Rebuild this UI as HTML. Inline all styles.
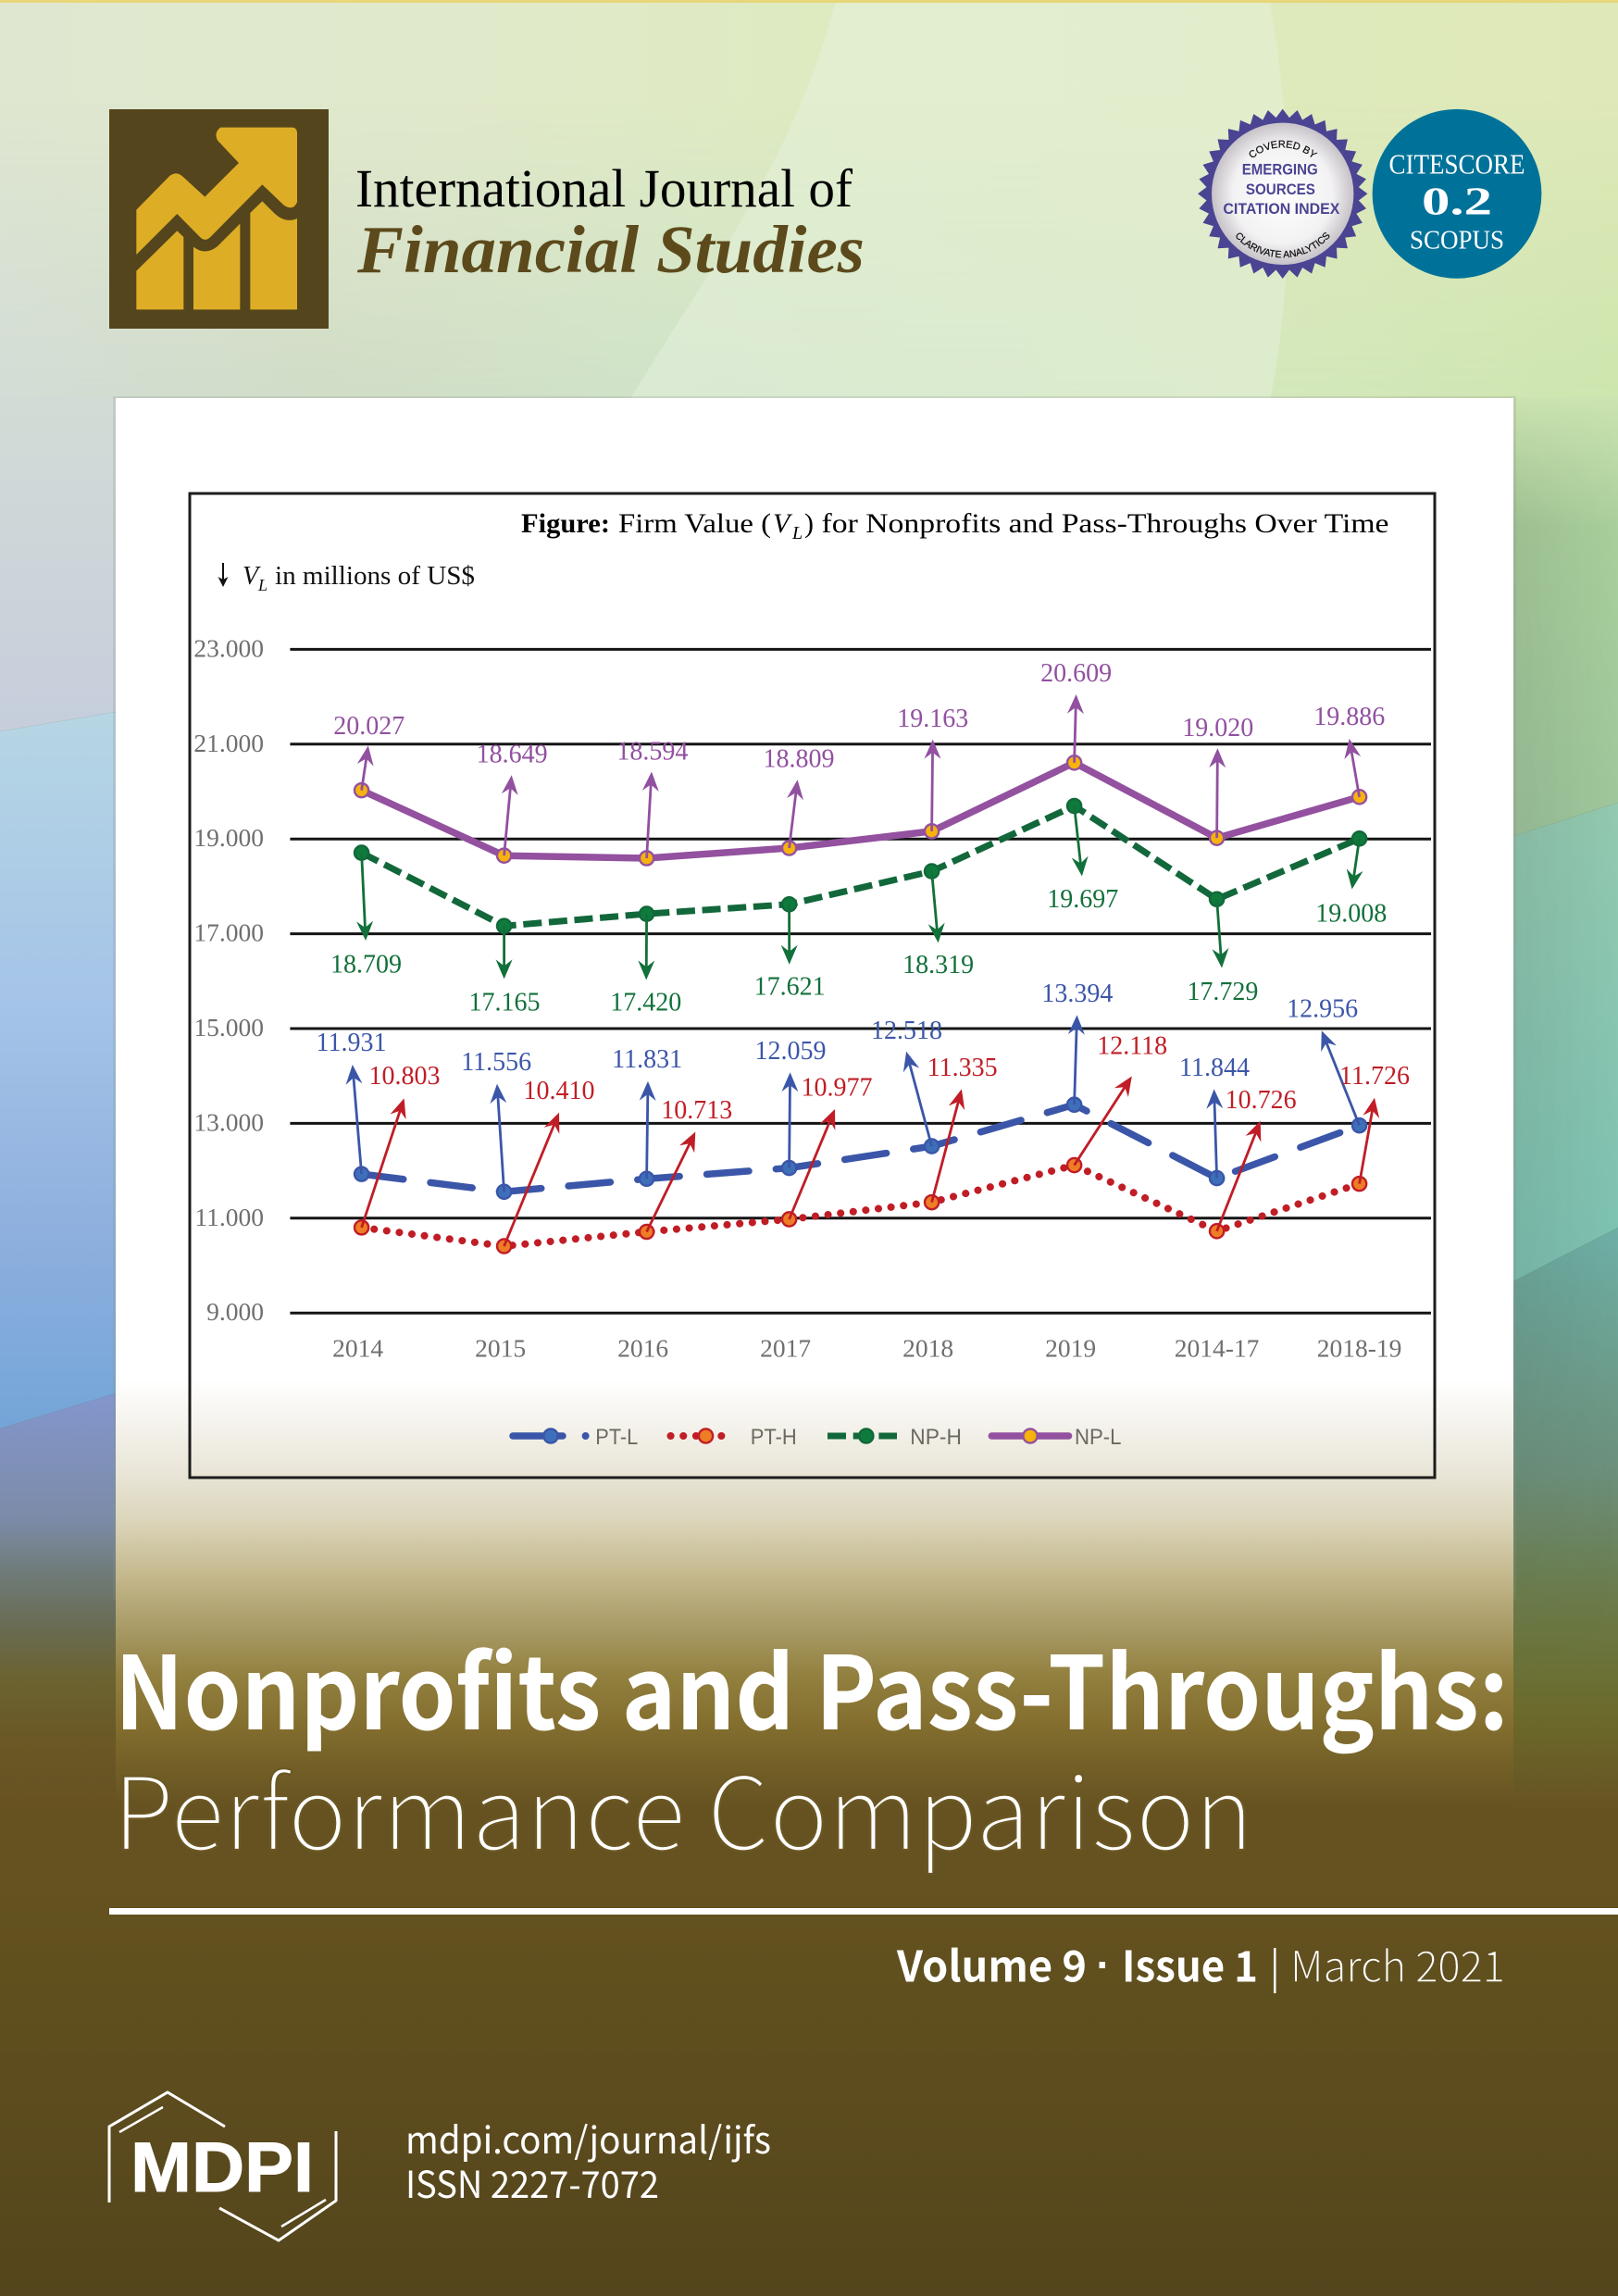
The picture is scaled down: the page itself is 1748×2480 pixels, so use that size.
<!DOCTYPE html>
<html lang="en">
<head>
<meta charset="utf-8">
<title>International Journal of Financial Studies - Cover</title>
<style>
html,body{margin:0;padding:0;width:1748px;height:2480px;overflow:hidden;background:#54451c}
svg{display:block}
.serif{font-family:"Liberation Serif",serif}
.sans{font-family:"Liberation Sans",sans-serif}
.cjk{font-family:"Noto Sans CJK JP","Liberation Sans",sans-serif}
</style>
</head>
<body>
<svg id="cover" xmlns="http://www.w3.org/2000/svg" width="1748" height="2480" viewBox="0 0 1748 2480">
<defs>
  <linearGradient id="hdrTop" x1="0" x2="1" y1="0" y2="0">
    <stop offset="0" stop-color="#dfe7d0"/><stop offset=".25" stop-color="#e1e9cc"/><stop offset=".5" stop-color="#deebc1"/><stop offset="1" stop-color="#dfe9b8"/>
  </linearGradient>
  <linearGradient id="hdrBot" x1="0" x2="1" y1="0" y2="0">
    <stop offset="0" stop-color="#d2dcd6"/><stop offset=".2" stop-color="#d0dcc6"/><stop offset=".42" stop-color="#cfe3c8"/><stop offset=".8" stop-color="#d3e7bb"/><stop offset="1" stop-color="#cde5ae"/>
  </linearGradient>
  <linearGradient id="hdrFade" x1="0" x2="0" y1="0" y2="1">
    <stop offset=".25" stop-color="#000"/><stop offset="1" stop-color="#fff"/>
  </linearGradient>
  <mask id="hdrMask" maskUnits="userSpaceOnUse" x="0" y="0" width="1748" height="432">
    <rect width="1748" height="432" fill="url(#hdrFade)"/>
  </mask>
  <linearGradient id="left1" gradientUnits="userSpaceOnUse" x1="0" x2="0" y1="430" y2="785">
    <stop offset="0" stop-color="#d2dcd6"/><stop offset="1" stop-color="#c6cedc"/>
  </linearGradient>
  <linearGradient id="left2" gradientUnits="userSpaceOnUse" x1="0" x2="0" y1="770" y2="1540">
    <stop offset="0" stop-color="#b6d6e4"/><stop offset=".42" stop-color="#a4c3e8"/><stop offset=".72" stop-color="#8fb0de"/><stop offset="1" stop-color="#74a5d8"/>
  </linearGradient>
  <linearGradient id="left3" gradientUnits="userSpaceOnUse" x1="0" x2="0" y1="1510" y2="1960">
    <stop offset="0" stop-color="#8396cc"/><stop offset=".289" stop-color="#7c8ba8"/><stop offset=".422" stop-color="#6f7b78"/><stop offset=".556" stop-color="#696b50"/><stop offset=".667" stop-color="#6b6332"/><stop offset=".822" stop-color="#6a5825"/><stop offset="1" stop-color="#675122"/>
  </linearGradient>
  <linearGradient id="right1" gradientUnits="userSpaceOnUse" x1="0" x2="0" y1="430" y2="900">
    <stop offset="0" stop-color="#cbe3b0"/><stop offset=".3" stop-color="#a9cf9c"/><stop offset="1" stop-color="#9ec69c"/>
  </linearGradient>
  <linearGradient id="right2" gradientUnits="userSpaceOnUse" x1="0" x2="0" y1="870" y2="1380">
    <stop offset="0" stop-color="#93c9b0"/><stop offset="1" stop-color="#7cc2b2"/>
  </linearGradient>
  <linearGradient id="right3" gradientUnits="userSpaceOnUse" x1="0" x2="0" y1="1330" y2="1960">
    <stop offset="0" stop-color="#6eb0a6"/><stop offset=".42" stop-color="#6c8f7a"/><stop offset=".62" stop-color="#6b7c4c"/><stop offset=".83" stop-color="#6b6a2a"/><stop offset="1" stop-color="#675122"/>
  </linearGradient>
  <linearGradient id="rightShade" x1="0" x2="1" y1="0" y2="0">
    <stop offset="0" stop-color="#fff"/><stop offset="1" stop-color="#000"/>
  </linearGradient>
  <linearGradient id="rightShadeV" gradientUnits="userSpaceOnUse" x1="0" x2="0" y1="432" y2="1800">
    <stop offset="0" stop-color="#000"/><stop offset=".1" stop-color="#555"/><stop offset=".7" stop-color="#555"/><stop offset="1" stop-color="#000"/>
  </linearGradient>
  <mask id="rightShadeMask" maskUnits="userSpaceOnUse" x="1635" y="432" width="113" height="1368">
    <rect x="1635" y="432" width="113" height="1368" fill="url(#rightShadeV)"/>
  </mask>
  <linearGradient id="shadeFill" gradientUnits="userSpaceOnUse" x1="1635" x2="1748" y1="0" y2="0">
    <stop offset="0" stop-color="#333" stop-opacity=".3"/><stop offset="1" stop-color="#333" stop-opacity="0"/>
  </linearGradient>
  <linearGradient id="bottomBg" gradientUnits="userSpaceOnUse" x1="0" x2="0" y1="1955" y2="2480">
    <stop offset="0" stop-color="#665221"/><stop offset=".2" stop-color="#63521f"/><stop offset="1" stop-color="#54451c"/>
  </linearGradient>
  <linearGradient id="panelFill" gradientUnits="userSpaceOnUse" x1="0" x2="0" y1="430" y2="1950">
    <stop offset="0" stop-color="#fff"/><stop offset=".6974" stop-color="#fff"/><stop offset=".7664" stop-color="#e8e4d6"/><stop offset=".796" stop-color="#dcd6bc"/><stop offset=".8355" stop-color="#c5b98e"/><stop offset=".875" stop-color="#a89a65"/><stop offset=".9079" stop-color="#92803f"/><stop offset=".9408" stop-color="#846f2f"/><stop offset=".9671" stop-color="#756228"/><stop offset="1" stop-color="#665321"/>
  </linearGradient>
  <radialGradient id="sealFill" cx=".5" cy=".5" r=".5">
    <stop offset="0" stop-color="#ffffff"/><stop offset=".7" stop-color="#f3f2f3"/><stop offset="1" stop-color="#c6c2c8"/>
  </radialGradient>
  <path id="sealTopArc" d="M1335.7,209.3 A50,50 0 0 1 1435.7,209.3"/>
  <path id="sealBottomArc" d="M1316.7,209.3 A69,69 0 0 0 1454.7,209.3"/>
</defs>

<g>
  <rect width="1748" height="432" fill="url(#hdrTop)"/>
  <rect width="1748" height="432" fill="url(#hdrBot)" mask="url(#hdrMask)"/>
  <path d="M903,0 C860,170 760,300 680,432 L1372,432 C1400,300 1395,120 1371,0 Z" fill="#e6f2e0" opacity=".45"/>
  <rect width="1748" height="3" fill="#e8d67a"/>
  <polygon points="0,430 125,430 125,769 0,790" fill="url(#left1)"/>
  <polygon points="0,790 125,769 125,1505 0,1543" fill="url(#left2)"/>
  <polygon points="0,1543 125,1505 125,1960 0,1960" fill="url(#left3)"/>
  <polygon points="1635,430 1748,430 1748,867 1635,903" fill="url(#right1)"/>
  <polygon points="1635,903 1748,867 1748,1326 1635,1384" fill="url(#right2)"/>
  <polygon points="1635,1384 1748,1326 1748,1960 1635,1960" fill="url(#right3)"/>
  <rect x="1635" y="432" width="113" height="1368" fill="url(#shadeFill)" mask="url(#rightShadeMask)"/>
  <rect y="1955" width="1748" height="525" fill="url(#bottomBg)"/>
  <rect x="122" y="428" width="1516" height="1300" fill="#8a9088" opacity=".22"/>
  <rect x="125" y="430" width="1510" height="1525" fill="url(#panelFill)"/>
</g>

<g>
  <rect x="118" y="118" width="237" height="237" fill="#54451c"/>
  <g transform="translate(100,100) scale(.33333)" fill="#dead26">
    <path d="M142,380 L250,270 Q270,254 290,270 L364,338 L474,228 L405,155 Q392,130 415,113 L645,113 Q663,113 663,132 L663,355 Q650,385 620,365 L550,298 L385,465 Q365,488 345,465 L274,393 L142,525 Z"/>
    <path d="M142,578 L274,448 L295,468 L295,703 L142,703 Z"/>
    <path d="M327,500 Q365,530 405,498 L478,425 L478,703 L327,703 Z"/>
    <path d="M511,390 L550,352 L590,392 Q625,425 663,408 L663,703 L511,703 Z"/>
  </g>
</g>
<text class="serif" x="384" y="223" font-size="58" fill="#000" textLength="537" lengthAdjust="spacingAndGlyphs">International Journal of</text>
<text class="serif" x="386" y="294" font-size="73" font-weight="bold" font-style="italic" fill="#5d4a1c" textLength="548" lengthAdjust="spacingAndGlyphs">Financial Studies</text>

<g id="seal">
  <circle cx="1385.7" cy="209.3" r="76.7" fill="url(#sealFill)"/>
  <text class="sans" x="1382.7" y="188.5" font-size="17" font-weight="bold" fill="#4a4492" text-anchor="middle" textLength="82" lengthAdjust="spacingAndGlyphs">EMERGING</text>
  <text class="sans" x="1383.4" y="210" font-size="17" font-weight="bold" fill="#4a4492" text-anchor="middle" textLength="75" lengthAdjust="spacingAndGlyphs">SOURCES</text>
  <text class="sans" x="1384.4" y="231" font-size="17" font-weight="bold" fill="#4a4492" text-anchor="middle" textLength="126" lengthAdjust="spacingAndGlyphs">CITATION INDEX</text>
  <text class="sans" font-size="11" fill="#111" stroke="#111" stroke-width=".25"><textPath href="#sealTopArc" startOffset="50%" text-anchor="middle">COVERED BY</textPath></text>
  <text class="sans" font-size="10.5" fill="#111" stroke="#111" stroke-width=".25"><textPath href="#sealBottomArc" startOffset="50%" text-anchor="middle">CLARIVATE ANALYTICS</textPath></text>
</g>
<g>
  <circle cx="1574" cy="209.3" r="91.4" fill="#007299"/>
  <text class="serif" x="1574" y="187.3" font-size="31" fill="#fff" text-anchor="middle" textLength="147" lengthAdjust="spacingAndGlyphs">CITESCORE</text>
  <text class="serif" x="1574" y="231.7" font-size="42" font-weight="bold" fill="#fff" text-anchor="middle" textLength="76" lengthAdjust="spacingAndGlyphs">0.2</text>
  <text class="serif" x="1574" y="268.3" font-size="28" fill="#fff" text-anchor="middle" textLength="102" lengthAdjust="spacingAndGlyphs">SCOPUS</text>
</g>

<g id="chart">
  <rect x="205" y="533" width="1345" height="1063" fill="none" stroke="#1c1c1c" stroke-width="3"/>
  <g class="serif" font-size="30" fill="#000">
    <text x="563" y="575" font-weight="bold" textLength="96" lengthAdjust="spacingAndGlyphs">Figure:</text>
    <text x="668" y="575" textLength="165" lengthAdjust="spacingAndGlyphs">Firm Value (</text>
    <text x="835" y="575" font-style="italic">V</text>
    <text x="856" y="582" font-size="20" font-style="italic">L</text>
    <text x="869" y="575">)</text>
    <text x="887.5" y="575" textLength="613" lengthAdjust="spacingAndGlyphs">for Nonprofits and Pass-Throughs Over Time</text>
  </g>
  <g class="serif" font-size="28" fill="#111">
    <line x1="241" y1="608" x2="241" y2="626" stroke="#111" stroke-width="2"/>
    <polygon points="241,634 235.5,623 241,626 246.5,623" fill="#111"/>
    <text x="262" y="631" font-style="italic">V</text>
    <text x="279" y="638" font-size="18" font-style="italic">L</text>
    <text x="297" y="631" textLength="216" lengthAdjust="spacingAndGlyphs">in millions of US$</text>
  </g>
  <g id="gridLayer"></g>
  <g id="yAxisLayer"></g>
  <g id="xAxisLayer"></g>
  <g id="seriesLayer"></g>
  <g id="legendLayer"></g>
</g>

<g>
  <text class="cjk" x="124" y="1868" font-size="109" font-weight="bold" fill="#fff" textLength="1506" lengthAdjust="spacingAndGlyphs">Nonprofits and Pass-Throughs:</text>
  <text class="cjk" x="122" y="1998" font-size="109" font-weight="300" fill="#fff" textLength="1232" lengthAdjust="spacingAndGlyphs" style="stroke:#6b5824;stroke-width:2.2px;paint-order:fill stroke">Performance Comparison</text>
  <rect x="118" y="2061" width="1630" height="7" fill="#fff"/>
  <text class="cjk" x="969" y="2140.5" font-size="46" font-weight="bold" fill="#fff" textLength="205" lengthAdjust="spacingAndGlyphs">Volume 9</text>
  <text class="sans" x="1192" y="2138" font-size="46" font-weight="bold" fill="#fff" text-anchor="middle">·</text>
  <text class="cjk" x="1212" y="2140.5" font-size="46" font-weight="bold" fill="#fff" textLength="147" lengthAdjust="spacingAndGlyphs">Issue 1</text>
  <rect x="1376" y="2104" width="2.5" height="49" fill="#fff"/>
  <text class="cjk" x="1394" y="2140.5" font-size="46" font-weight="300" fill="#fff" textLength="232" lengthAdjust="spacingAndGlyphs" style="stroke:#5f4e1f;stroke-width:.5px;paint-order:fill stroke">March 2021</text>
</g>

<g>
  <path d="M243,2297 L181,2260 L118,2297 L118,2379" fill="none" stroke="#fff" stroke-width="3"/>
  <path d="M129,2303 L176,2276" fill="none" stroke="#fff" stroke-width="2.5"/>
  <path d="M237,2385 L301,2420 L363,2377 L363,2302" fill="none" stroke="#fff" stroke-width="3"/>
  <path d="M352,2376 L304,2405" fill="none" stroke="#fff" stroke-width="2.5"/>
  <text class="sans" x="141" y="2367" font-size="76" font-weight="bold" fill="#fff" stroke="#fff" stroke-width="1" textLength="198" lengthAdjust="spacingAndGlyphs">MDPI</text>
</g>
<text class="cjk" x="438" y="2326" font-size="40" fill="#fff" textLength="395" lengthAdjust="spacingAndGlyphs">mdpi.com/journal/ijfs</text>
<text class="cjk" x="438" y="2374" font-size="40" fill="#fff" textLength="274" lengthAdjust="spacingAndGlyphs">ISSN 2227-7072</text>
</svg>

<script>
const categories = ['2014', '2015', '2016', '2017', '2018', '2019', '2014-17', '2018-19'];
const yTickValues = [23, 21, 19, 17, 15, 13, 11, 9];
const npLValues = [20.027, 18.649, 18.594, 18.809, 19.163, 20.609, 19.020, 19.886];
const npHValues = [18.709, 17.165, 17.420, 17.621, 18.319, 19.697, 17.729, 19.008];
const ptLValues = [11.931, 11.556, 11.831, 12.059, 12.518, 13.394, 11.844, 12.956];
const ptHValues = [10.803, 10.410, 10.713, 10.977, 11.335, 12.118, 10.726, 11.726];
const legendNames = ['PT-L', 'PT-H', 'NP-H', 'NP-L'];

const SVGNS = 'http://www.w3.org/2000/svg';
function make(tag, attrs, parent) {
  const el = document.createElementNS(SVGNS, tag);
  for (const k in attrs) el.setAttribute(k, attrs[k]);
  parent.appendChild(el);
  return el;
}

function xPos(i) { return 390.6 + 154 * i; }
function yPos(v) { return 701.4 + (23 - v) * 51.2; }
function fmt(v) { return v.toFixed(3); }

function drawAxes() {
  const grid = document.getElementById('gridLayer');
  const yAxis = document.getElementById('yAxisLayer');
  const xAxis = document.getElementById('xAxisLayer');
  yTickValues.forEach(function (t) {
    const line = make('line', { x1: 313.4, x2: 1546, y1: yPos(t), y2: yPos(t), stroke: '#141414', 'stroke-width': 3 }, grid);
    
    
    const label = make('text', { x: 285, y: yPos(t) + 8, 'text-anchor': 'end', 'font-size': 27.5, fill: '#6f6f6f', class: 'serif' }, yAxis);
    label.textContent = fmt(t);
    
    
  });
  categories.forEach(function (c, i) {
    const shift = c.length > 4 ? 0 : -4;
    const label = make('text', { x: xPos(i) + shift, y: 1465.5, 'text-anchor': 'middle', 'font-size': 27.5, fill: '#6f6f6f', class: 'serif' }, xAxis);
    label.textContent = c;
    
    
  });
}

function drawArrow(parent, px, py, tx, ty, color, name) {
  const g = make('g', {}, parent);
  
  
  const dx = tx - px, dy = ty - py, len = Math.sqrt(dx * dx + dy * dy);
  const ux = dx / len, uy = dy / len, nx = -uy, ny = ux;
  const headLen = 21, headHalf = 9, notch = 14;
  make('line', { x1: px, y1: py, x2: tx - ux * notch, y2: ty - uy * notch, stroke: color, 'stroke-width': 2.8 }, g);
  const pts = [
    [tx, ty],
    [tx - ux * headLen + nx * headHalf, ty - uy * headLen + ny * headHalf],
    [tx - ux * notch, ty - uy * notch],
    [tx - ux * headLen - nx * headHalf, ty - uy * headLen - ny * headHalf]
  ].map(function (p) { return p[0].toFixed(1) + ',' + p[1].toFixed(1); }).join(' ');
  make('polygon', { points: pts, fill: color }, g);
}

function drawSeries(values, style, calloutLayout) {
  const layer = document.getElementById('seriesLayer');
  const g = make('g', {}, layer);
  
  
  const d = values.map(function (v, i) { return (i ? 'L' : 'M') + xPos(i).toFixed(1) + ',' + yPos(v).toFixed(1); }).join(' ');
  const path = make('path', { d: d, fill: 'none', stroke: style.line, 'stroke-width': style.width, 'stroke-linecap': style.cap, 'stroke-linejoin': 'round' }, g);
  if (style.dash) path.setAttribute('stroke-dasharray', style.dash);
  
  
  values.forEach(function (v, i) {
    const cx = xPos(i), cy = yPos(v);
    const marker = make('circle', { cx: cx, cy: cy, r: 7.6, fill: style.fill, stroke: style.line, 'stroke-width': 2.4 }, g);
    
    
  });
  values.forEach(function (v, i) {
    const cx = xPos(i), cy = yPos(v);
    const c = calloutLayout[i];
    drawArrow(g, cx, cy, cx + c[0], cy + c[1], style.arrow, style.name);
    const label = make('text', { x: cx + c[2], y: cy + c[3] + 8.3, 'text-anchor': 'middle', 'font-size': 28, fill: style.text, class: 'serif' }, g);
    label.textContent = fmt(v);
    
    
  });
}

function drawAllSeries() {
  /* callout geometry relative to each point: arrow tip dx, dy, then label centre dx, dy */
  drawSeries(npHValues, { name: 'np-h', line: '#12683a', fill: '#0e7b3c', width: 7, cap: 'butt', dash: '20 7.7', arrow: '#12703a', text: '#12703a' }, [
    [4.5, 94.9, 4.9, 120.9], [0, 57.2, 0.4, 82.8], [-0.4, 71.4, -0.8, 96.3], [0.1, 64.9, 0.5, 89.4],
    [7, 77.3, 7, 101.4], [8.3, 75.9, 9.2, 101.1], [5.4, 74.2, 6.3, 100.2], [-8, 54.7, -8.8, 81.2]
  ]);
  drawSeries(npLValues, { name: 'np-l', line: '#93519f', fill: '#f7b30c', width: 7.5, cap: 'butt', dash: '', arrow: '#9150a0', text: '#9150a0' }, [
    [7.2, -48.1, 8.1, -69.1], [8.1, -86.9, 8.5, -109.1], [5.4, -93.5, 6.3, -115], [9, -73.7, 10.4, -96],
    [1.1, -99.2, 1.1, -121.4], [2, -73.8, 2, -95.9], [0.8, -97, 1.2, -118.4], [-10.9, -62.9, -10.9, -86.3]
  ]);
  drawSeries(ptLValues, { name: 'pt-l', line: '#3b56a8', fill: '#3e70ba', width: 7.5, cap: 'round', dash: '45.5 29.5', arrow: '#3b56a8', text: '#3b56a8' }, [
    [-9.8, -118.1, -11.1, -141.3], [-7.6, -116.6, -8.4, -139.4], [1.4, -105.4, 0.5, -128.7], [1, -103.4, 1.4, -125.9],
    [-27.5, -102.4, -27.1, -124.5], [2.9, -96.8, 3.3, -119.6], [-3, -96.2, -2.6, -119], [-40.8, -102.4, -40, -125.6]
  ]);
  drawSeries(ptHValues, { name: 'pt-h', line: '#c01d26', fill: '#ee7d25', width: 8, cap: 'round', dash: '0.1 13.6', arrow: '#c01d26', text: '#c01d26' }, [
    [46, -139.5, 46.4, -163], [59.4, -144.2, 59.4, -167.4], [52.7, -108, 54.1, -130.9], [49.4, -119, 51.4, -142],
    [32.3, -122.2, 33.1, -144.7], [62.2, -96.1, 62.6, -128.2], [47.1, -119.1, 47.5, -141.2], [16.4, -92.9, 16.4, -115.7]
  ]);
}

function drawLegend() {
  const layer = document.getElementById('legendLayer');
  const ly = 1551;
  const entries = [
    { x1: 554, x2: 608, mx: 595, line: '#3b56a8', fill: '#3e70ba', width: 7.5, cap: 'round', dash: '', lx: 643.3, lw: 46 },
    { x1: 724.5, x2: 793, mx: 762.5, line: '#c01d26', fill: '#ee7d25', width: 8, cap: 'round', dash: '0.1 13.6', lx: 810.7, lw: 50 },
    { x1: 894, x2: 969, mx: 935.8, line: '#12683a', fill: '#0e7b3c', width: 7, cap: 'butt', dash: '20 7.7', lx: 983.3, lw: 55.6 },
    { x1: 1071.3, x2: 1154.6, mx: 1113, line: '#93519f', fill: '#f7b30c', width: 7.5, cap: 'round', dash: '', lx: 1161, lw: 50.5 }
  ];
  entries.forEach(function (e, i) {
    const g = make('g', {}, layer);
    
    
    const l = make('line', { x1: e.x1, x2: e.x2, y1: ly, y2: ly, stroke: e.line, 'stroke-width': e.width, 'stroke-linecap': e.cap }, g);
    if (e.dash) l.setAttribute('stroke-dasharray', e.dash);
    make('circle', { cx: e.mx, cy: ly, r: 7.6, fill: e.fill, stroke: e.line, 'stroke-width': 2.4 }, g);
    if (i === 0) make('circle', { cx: 632.6, cy: ly, r: 4, fill: e.line }, g);
    const t = make('text', { x: e.lx, y: ly + 9, 'font-size': 24, fill: '#6b6a60', class: 'sans', textLength: e.lw, lengthAdjust: 'spacingAndGlyphs' }, g);
    t.textContent = legendNames[i];
  });
}

function drawSealTeeth() {
  const seal = document.getElementById('seal');
  const cx = 1385.7, cy = 209.3, teeth = 36, pts = [];
  for (let k = 0; k < teeth * 2; k++) {
    const r = k % 2 ? 82.5 : 91.7;
    const a = Math.PI * k / teeth - Math.PI / 2;
    pts.push((cx + r * Math.cos(a)).toFixed(1) + ',' + (cy + r * Math.sin(a)).toFixed(1));
  }
  const star = document.createElementNS(SVGNS, 'polygon');
  star.setAttribute('points', pts.join(' '));
  star.setAttribute('fill', '#4a4492');
  
  
  seal.insertBefore(star, seal.firstChild);
}

drawSealTeeth();
drawAxes();
drawAllSeries();
drawLegend();
</script>
</body>
</html>
